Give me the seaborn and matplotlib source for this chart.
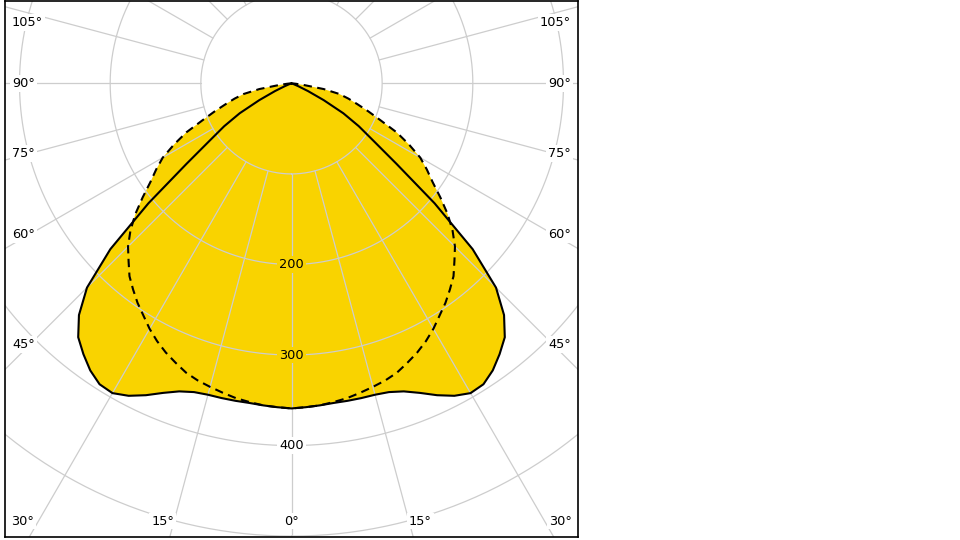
import numpy as np
import matplotlib
matplotlib.use("Agg")
import matplotlib.pyplot as plt
import seaborn as sns
import pandas as pd

# ---- data (cd/klm), angle measured from nadir, symmetric planes ----
angles_deg = [0, 2.5, 5, 7.5, 10, 12.5, 15, 17.5, 20, 22.5, 25, 27.5, 30, 32.5,
              35, 37.5, 40, 42.5, 45, 47.5, 50, 52.5, 55, 57.5, 60, 62.5, 65,
              67.5, 70, 72.5, 75, 77.5, 80, 82.5, 85, 87.5, 90]
solid_cd = [359, 358, 357, 356, 356, 356, 356, 357.5, 362, 370, 380, 389, 395, 394,
            387, 377, 366, 347, 319, 271, 206, 146, 110, 88, 66, 40, 20,
            8, 3, 1, 0, 0, 0, 0, 0, 0, 0]
dashed_cd = [359, 358, 357, 355, 353, 350, 347, 344, 340, 334, 328, 321, 313, 304,
             296, 287, 278, 266, 255, 241, 225, 207, 190, 177, 164, 146, 128,
             106, 90, 76, 65, 54, 36, 14, 5, 2, 0]

ring_values = [100, 200, 300, 400, 500, 600]
ring_labels = [200, 300, 400]
spoke_angles = list(range(0, 360, 15))
side_label_angles = [105, 90, 75, 60, 45]
bottom_label_angles = [30, 15, 0]

YELLOW = "#f9d300"
GRID = "#cdcdcd"
FS = 9.3

sns.set_theme(style="white")
plt.rcParams['font.family'] = ['DejaVu Sans']
plt.rcParams['text.color'] = 'black'

fig = plt.figure(figsize=(9.6, 5.4), dpi=100)
ax = fig.add_axes([5 / 960, 3 / 540, 573 / 960, 536 / 540])
XL, YT, YB = 316.0, 91.0, -501.0
ax.set_xlim(-XL, XL)
ax.set_ylim(YB, YT)
ax.set_xticks([])
ax.set_yticks([])
for s in ax.spines.values():
    s.set_visible(True)
    s.set_color("black")
    s.set_linewidth(1.2)
    s.set_zorder(10)

def curve_xy(vals):
    a = np.array(angles_deg, dtype=float)
    v = np.array(vals, dtype=float)
    th = np.deg2rad(np.concatenate([-a[::-1], a[1:]]))
    r = np.concatenate([v[::-1], v[1:]])
    return r * np.sin(th), -r * np.cos(th)

xs, ys = curve_xy(solid_cd)
xd, yd = curve_xy(dashed_cd)

# fills
ax.fill(xs, ys, color=YELLOW, lw=0, zorder=1)
ax.fill(xd, yd, color=YELLOW, lw=0, zorder=1)

# grid rings
t = np.linspace(0, 2 * np.pi, 721)
for rv in ring_values:
    ax.plot(rv * np.sin(t), -rv * np.cos(t), color=GRID, lw=0.9, zorder=2)
# spokes
for a in spoke_angles:
    th = np.deg2rad(a)
    ax.plot([100 * np.sin(th), 800 * np.sin(th)],
            [-100 * np.cos(th), -800 * np.cos(th)], color=GRID, lw=0.9, zorder=2)

# radial value labels
for rv in ring_labels:
    inside = rv < solid_cd[0]
    ax.text(0, -rv, str(rv), ha="center", va="center", fontsize=FS, color="black",
            zorder=3, bbox=dict(boxstyle="square,pad=0.15",
                                fc=YELLOW if inside else "white", ec="none"))

# curves
df_s = pd.DataFrame({"x": xs, "y": ys})
df_d = pd.DataFrame({"x": xd, "y": yd})
sns.lineplot(data=df_s, x="x", y="y", sort=False, estimator=None, color="black",
             lw=1.5, ax=ax, zorder=4)
sns.lineplot(data=df_d, x="x", y="y", sort=False, estimator=None, color="black",
             lw=1.5, linestyle=(0, (4, 2.6)), ax=ax, zorder=4)
ax.set_xlabel("")
ax.set_ylabel("")
ax.set_xlim(-XL, XL)
ax.set_ylim(YB, YT)

# angle labels
ppu = 0.9066
lab_bbox = dict(boxstyle="square,pad=0.15", fc="white", ec="none")
x_inset = XL - 7 / ppu          # text edge
x_ray = XL - 25 / ppu           # where the ray is sampled
y_top_max = YT - 21.5 / ppu
for a in side_label_angles:
    th = np.deg2rad(a)
    y = -x_ray * np.cos(th) / np.sin(th)
    y = min(y, y_top_max)
    ax.text(-x_inset, y, f"{a}°", ha="left", va="center", fontsize=FS,
            color="black", zorder=5, bbox=lab_bbox)
    ax.text(x_inset, y, f"{a}°", ha="right", va="center", fontsize=FS,
            color="black", zorder=5, bbox=lab_bbox)
y_bot = YB + 16 / ppu
for a in bottom_label_angles:
    th = np.deg2rad(a)
    hit = -YB * np.tan(th)
    if a == 0:
        ax.text(0, y_bot, "0°", ha="center", va="center", fontsize=FS,
                color="black", zorder=5, bbox=lab_bbox)
    else:
        off = 7 / ppu
        ax.text(-hit - off, y_bot, f"{a}°", ha="center", va="center",
                fontsize=FS, color="black", zorder=5, bbox=lab_bbox)
        ax.text(hit + off, y_bot, f"{a}°", ha="center", va="center",
                fontsize=FS, color="black", zorder=5, bbox=lab_bbox)

fig.savefig("out.png", dpi=100, facecolor="white")
